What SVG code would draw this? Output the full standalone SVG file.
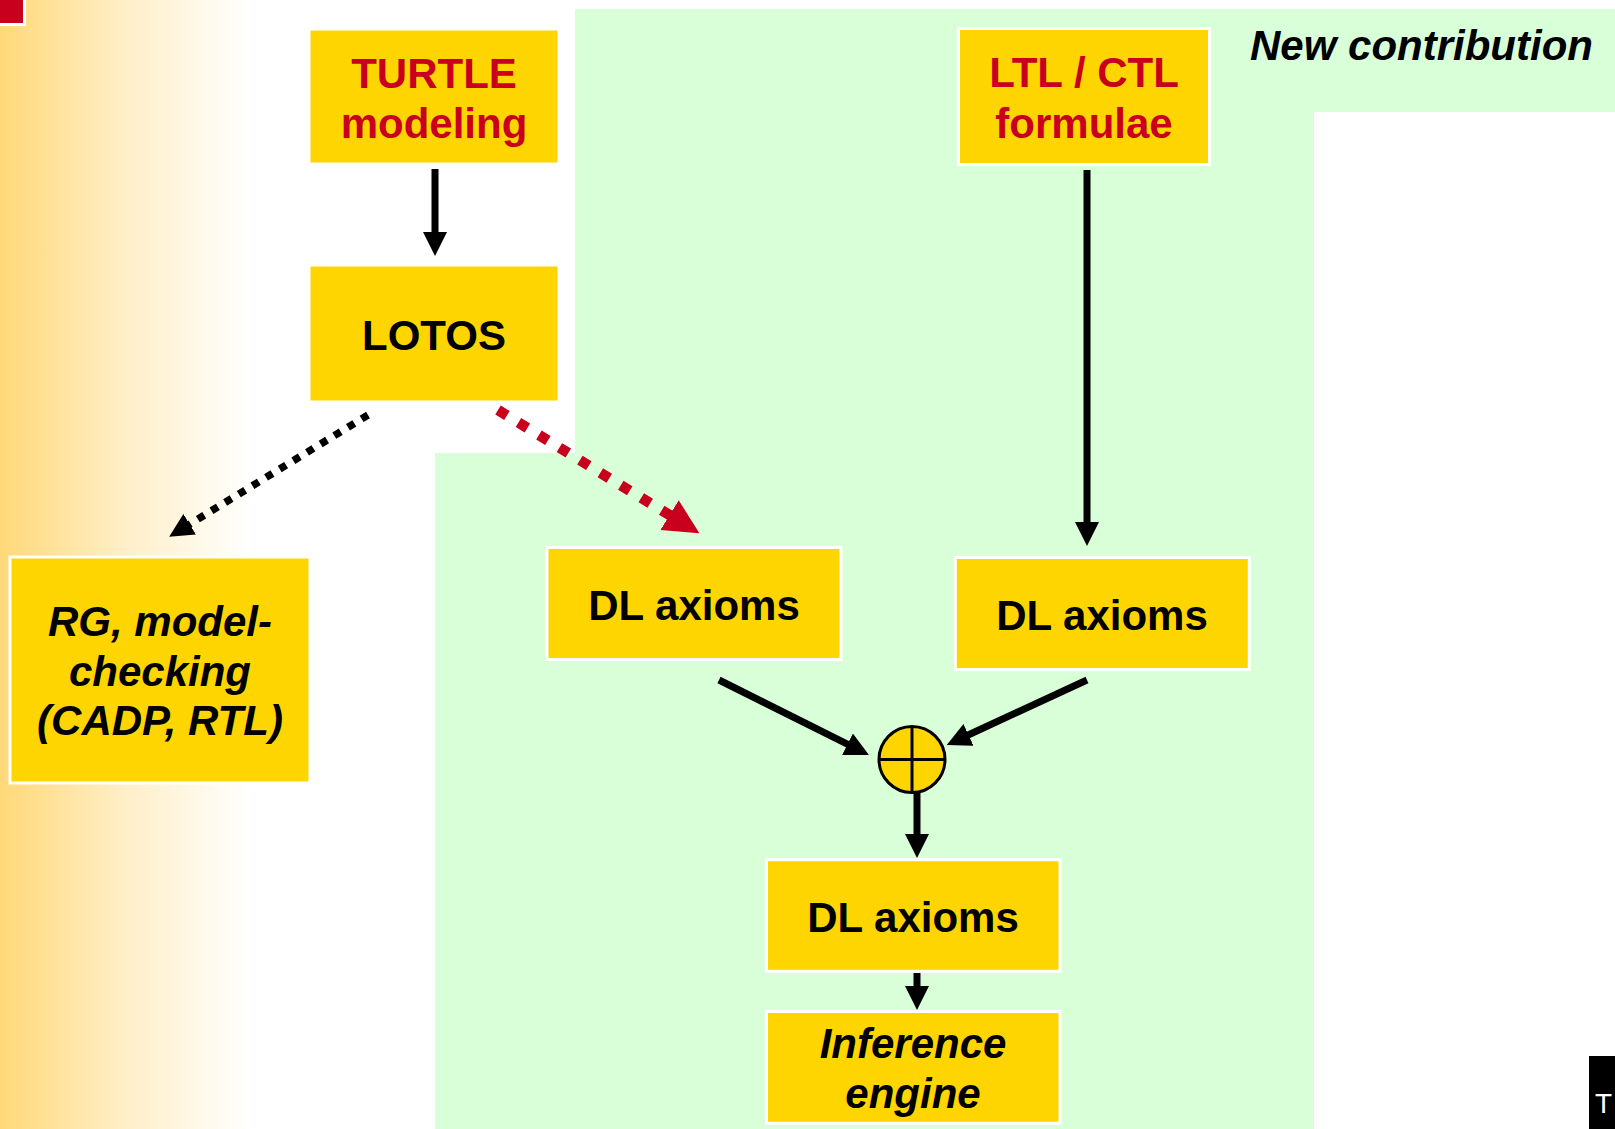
<svg xmlns="http://www.w3.org/2000/svg" width="1615" height="1129" viewBox="0 0 1615 1129">
<style>
.box{fill:#FFD500;stroke:#FFFFFF;stroke-width:3}
.t{font-family:"Liberation Sans",Arial,sans-serif;font-size:42px;font-weight:bold;text-anchor:middle;fill:#000}
.red{fill:#C8001E}
.it{font-style:italic}
.conn{stroke:#000;stroke-width:7;fill:none}
</style>
<defs>
<linearGradient id="lg" x1="0" y1="0" x2="1" y2="0">
<stop offset="0" stop-color="#FFD878"/>
<stop offset="0.5" stop-color="#FFEFC8"/>
<stop offset="1" stop-color="#FFFFFF"/>
</linearGradient>
<marker id="ah" markerUnits="userSpaceOnUse" markerWidth="24" markerHeight="24" refX="1" refY="12" orient="auto">
<path d="M0,0 L24,12 L0,24 z" fill="#000"/>
</marker>
<marker id="ahr" markerUnits="userSpaceOnUse" markerWidth="36" markerHeight="36" refX="1" refY="17.5" orient="auto">
<path d="M0,0 L35,17.5 L0,35 z" fill="#C8001E"/>
</marker>
</defs>
<rect x="0" y="0" width="1615" height="1129" fill="#FFFFFF"/>
<rect x="0" y="0" width="250" height="1129" fill="url(#lg)"/>
<rect x="0" y="0" width="26" height="26" fill="#FFFFFF"/>
<rect x="0" y="0" width="23" height="23" fill="#C8001E"/>
<polygon points="575,9 1615,9 1615,112 1314,112 1314,1129 435,1129 435,453 575,453" fill="#D9FFD9"/>
<text x="1250" y="60" class="t it" style="text-anchor:start">New contribution</text>
<g id="connectors">
<line class="conn" x1="435" y1="169" x2="435" y2="233" marker-end="url(#ah)"/>
<line class="conn" x1="1087" y1="170" x2="1087" y2="523" marker-end="url(#ah)"/>
<line class="conn" x1="719" y1="680" x2="848.4" y2="744.7" marker-end="url(#ah)"/>
<line class="conn" x1="1087" y1="680" x2="967.6" y2="735.3" marker-end="url(#ah)"/>
<line class="conn" x1="917" y1="793" x2="917" y2="835" marker-end="url(#ah)"/>
<line class="conn" x1="917" y1="973" x2="917" y2="987" marker-end="url(#ah)"/>
<line x1="368" y1="415" x2="188.8" y2="524.7" stroke="#000" stroke-width="7.5" stroke-dasharray="7.5 8.5" marker-end="url(#ah)"/>
<line x1="498" y1="410" x2="670.4" y2="515.6" stroke="#C8001E" stroke-width="10.5" stroke-dasharray="10.5 13.5" marker-end="url(#ahr)"/>
</g>
<g id="turtle">
<rect class="box" x="309" y="29" width="250" height="135"/>
<text class="t red" x="434" y="87.5">TURTLE</text>
<text class="t red" x="434" y="138">modeling</text>
</g>
<g id="lotos">
<rect class="box" x="309" y="265" width="250" height="137"/>
<text class="t" x="434" y="350">LOTOS</text>
</g>
<g id="ltlctl">
<rect class="box" x="958.5" y="28.5" width="251" height="136"/>
<text class="t red" x="1084" y="87.3">LTL / CTL</text>
<text class="t red" x="1084" y="138.3">formulae</text>
</g>
<g id="rg">
<rect class="box" x="10" y="557" width="300" height="226"/>
<text class="t it" x="160" y="636">RG, model-</text>
<text class="t it" x="160" y="686">checking</text>
<text class="t it" x="160" y="735">(CADP, RTL)</text>
</g>
<g id="dl1">
<rect class="box" x="547" y="547.5" width="294" height="112"/>
<text class="t" x="694" y="620">DL axioms</text>
</g>
<g id="dl2">
<rect class="box" x="955.3" y="557.5" width="294" height="112"/>
<text class="t" x="1102" y="630">DL axioms</text>
</g>
<g id="oplus">
<circle cx="912" cy="759.5" r="33" fill="#FFD500" stroke="#000" stroke-width="3"/>
<line x1="912" y1="726.5" x2="912" y2="792.5" stroke="#000" stroke-width="3"/>
<line x1="879" y1="759.5" x2="945" y2="759.5" stroke="#000" stroke-width="3"/>
</g>
<g id="dl3">
<rect class="box" x="766.5" y="859.8" width="293.5" height="111.5"/>
<text class="t" x="913" y="931.7">DL axioms</text>
</g>
<g id="inference">
<rect class="box" x="766.5" y="1011.5" width="293.5" height="111.7"/>
<text class="t it" x="913" y="1058.3">Inference</text>
<text class="t it" x="913" y="1107.7">engine</text>
</g>
<rect x="1589" y="1056" width="26" height="73" fill="#000"/>
<text x="1595" y="1113" font-family="Liberation Sans, Arial, sans-serif" font-size="28" fill="#FFFFFF">T</text>
</svg>
